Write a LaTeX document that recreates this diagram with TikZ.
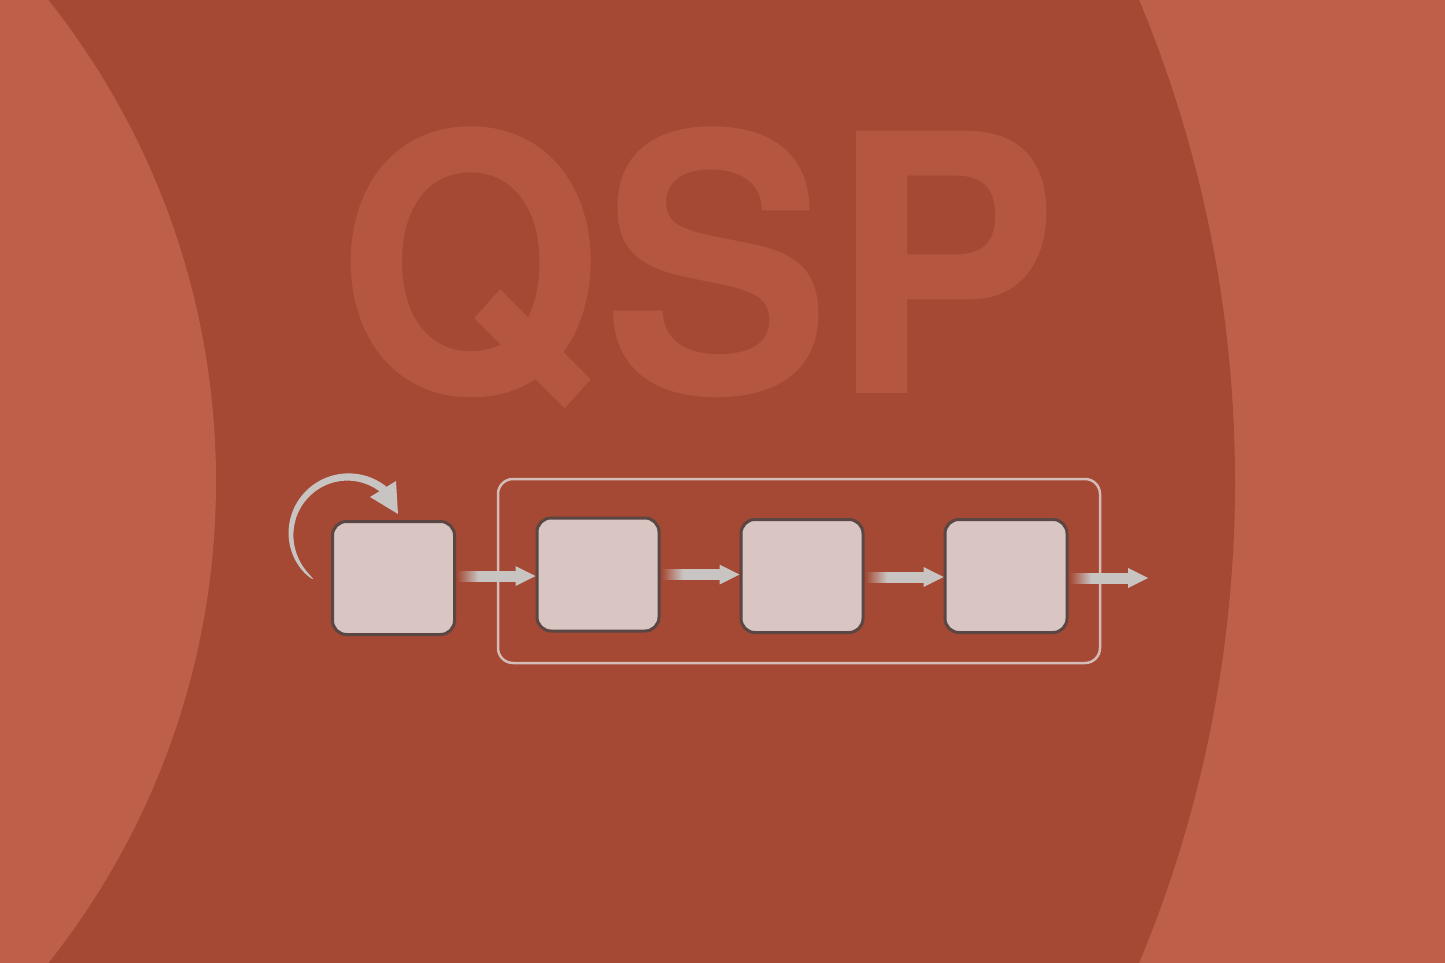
\documentclass[tikz,border=0pt]{standalone}
\usepackage{fontspec}
\newfontfamily\qspfont{texgyreheros-bold.otf}
\usetikzlibrary{fadings,calc}
\pgfdeclarehorizontalshading{qfadesh}{100bp}{color(0bp)=(pgftransparent!100); color(25bp)=(pgftransparent!100); color(43bp)=(pgftransparent!0); color(100bp)=(pgftransparent!0)}
\pgfdeclarefading{qfade}{\pgfuseshading{qfadesh}}
\definecolor{bgdark}{RGB}{165,72,52}
\definecolor{bglight}{RGB}{190,96,73}
\definecolor{qsptext}{RGB}{181,87,64}
\definecolor{boxfill}{RGB}{217,198,195}
\definecolor{boxline}{RGB}{90,70,66}
\definecolor{framecol}{RGB}{212,188,183}
\definecolor{arrowgray}{RGB}{200,196,194}
\tikzset{
  qbox/.style={draw=boxline, line width=3pt, fill=boxfill, rounded corners=14pt,
    minimum width=122pt, minimum height=113pt, inner sep=0pt},
  qframe/.style={draw=framecol, line width=2.5pt, rounded corners=15pt,
    minimum width=602pt, minimum height=184pt, inner sep=0pt},
  shaft/.style={fill=arrowgray, path fading=qfade},
  head/.style={fill=arrowgray}
}
\newcommand{\qarrow}[2]{% from, to
  \fill[shaft] ($(#1)+(1,-5.5)$) rectangle ($(#2)+(-19,5.5)$);
  \fill[head] ($(#2)+(-20,-10)$) -- (#2) -- ($(#2)+(-20,10)$) -- cycle;
}
\begin{document}
\begin{tikzpicture}[x=1pt,y=-1pt]
\useasboundingbox (0,0) rectangle (1445,963);
\fill[bglight] (0,0) rectangle (1445,963);
\begin{scope}
\clip (0,0) rectangle (1445,963);
\fill[bgdark] (-17,481.5) circle[radius=1252pt];
\fill[bglight] (-559,481.5) circle[radius=775pt];
\end{scope}
\node[anchor=base, text=qsptext, font=\qspfont\fontsize{360}{360}\selectfont, inner sep=0pt, xscale=0.95] (title) at (697.5,393) {QSP};
% frame
\node[qframe] (frame) at (799,571) {};
% boxes
\node[qbox] (b1) at (393.5,578) {};
\node[qbox] (b2) at (598,574.5) {};
\node[qbox] (b3) at (802,576) {};
\node[qbox] (b4) at (1006,576) {};
\coordinate (out) at (1148,578);
% arrows
\coordinate (a1s) at ($(b1.east)+(0,-2)$);
\coordinate (a1e) at (b2.west |- a1s);
\qarrow{a1s}{a1e}
\coordinate (a2s) at (b2.east);
\coordinate (a2e) at (b3.west |- a2s);
\qarrow{a2s}{a2e}
\coordinate (a3s) at ($(b3.east)+(0,1)$);
\coordinate (a3e) at (b4.west |- a3s);
\qarrow{a3s}{a3e}
\coordinate (a4s) at ($(b4.east)+(0,2)$);
\qarrow{a4s}{out}
% loop arrow (tapered arc)
\fill[arrowgray]
  plot[domain=128:309, samples=80, variable=\t]
    ({348+(57+4*pow((\t-127.9)/181,0.4))*cos(\t)}, {534+(57+4*pow((\t-127.9)/181,0.4))*sin(\t)})
  -- plot[domain=309:128, samples=80, variable=\t]
    ({348+(57-4*pow((\t-127.9)/181,0.4))*cos(\t)}, {534+(57-4*pow((\t-127.9)/181,0.4))*sin(\t)})
  -- cycle;
\fill[arrowgray] (370,497) -- (396,481) -- (398,514) -- cycle;
\end{tikzpicture}
\end{document}
